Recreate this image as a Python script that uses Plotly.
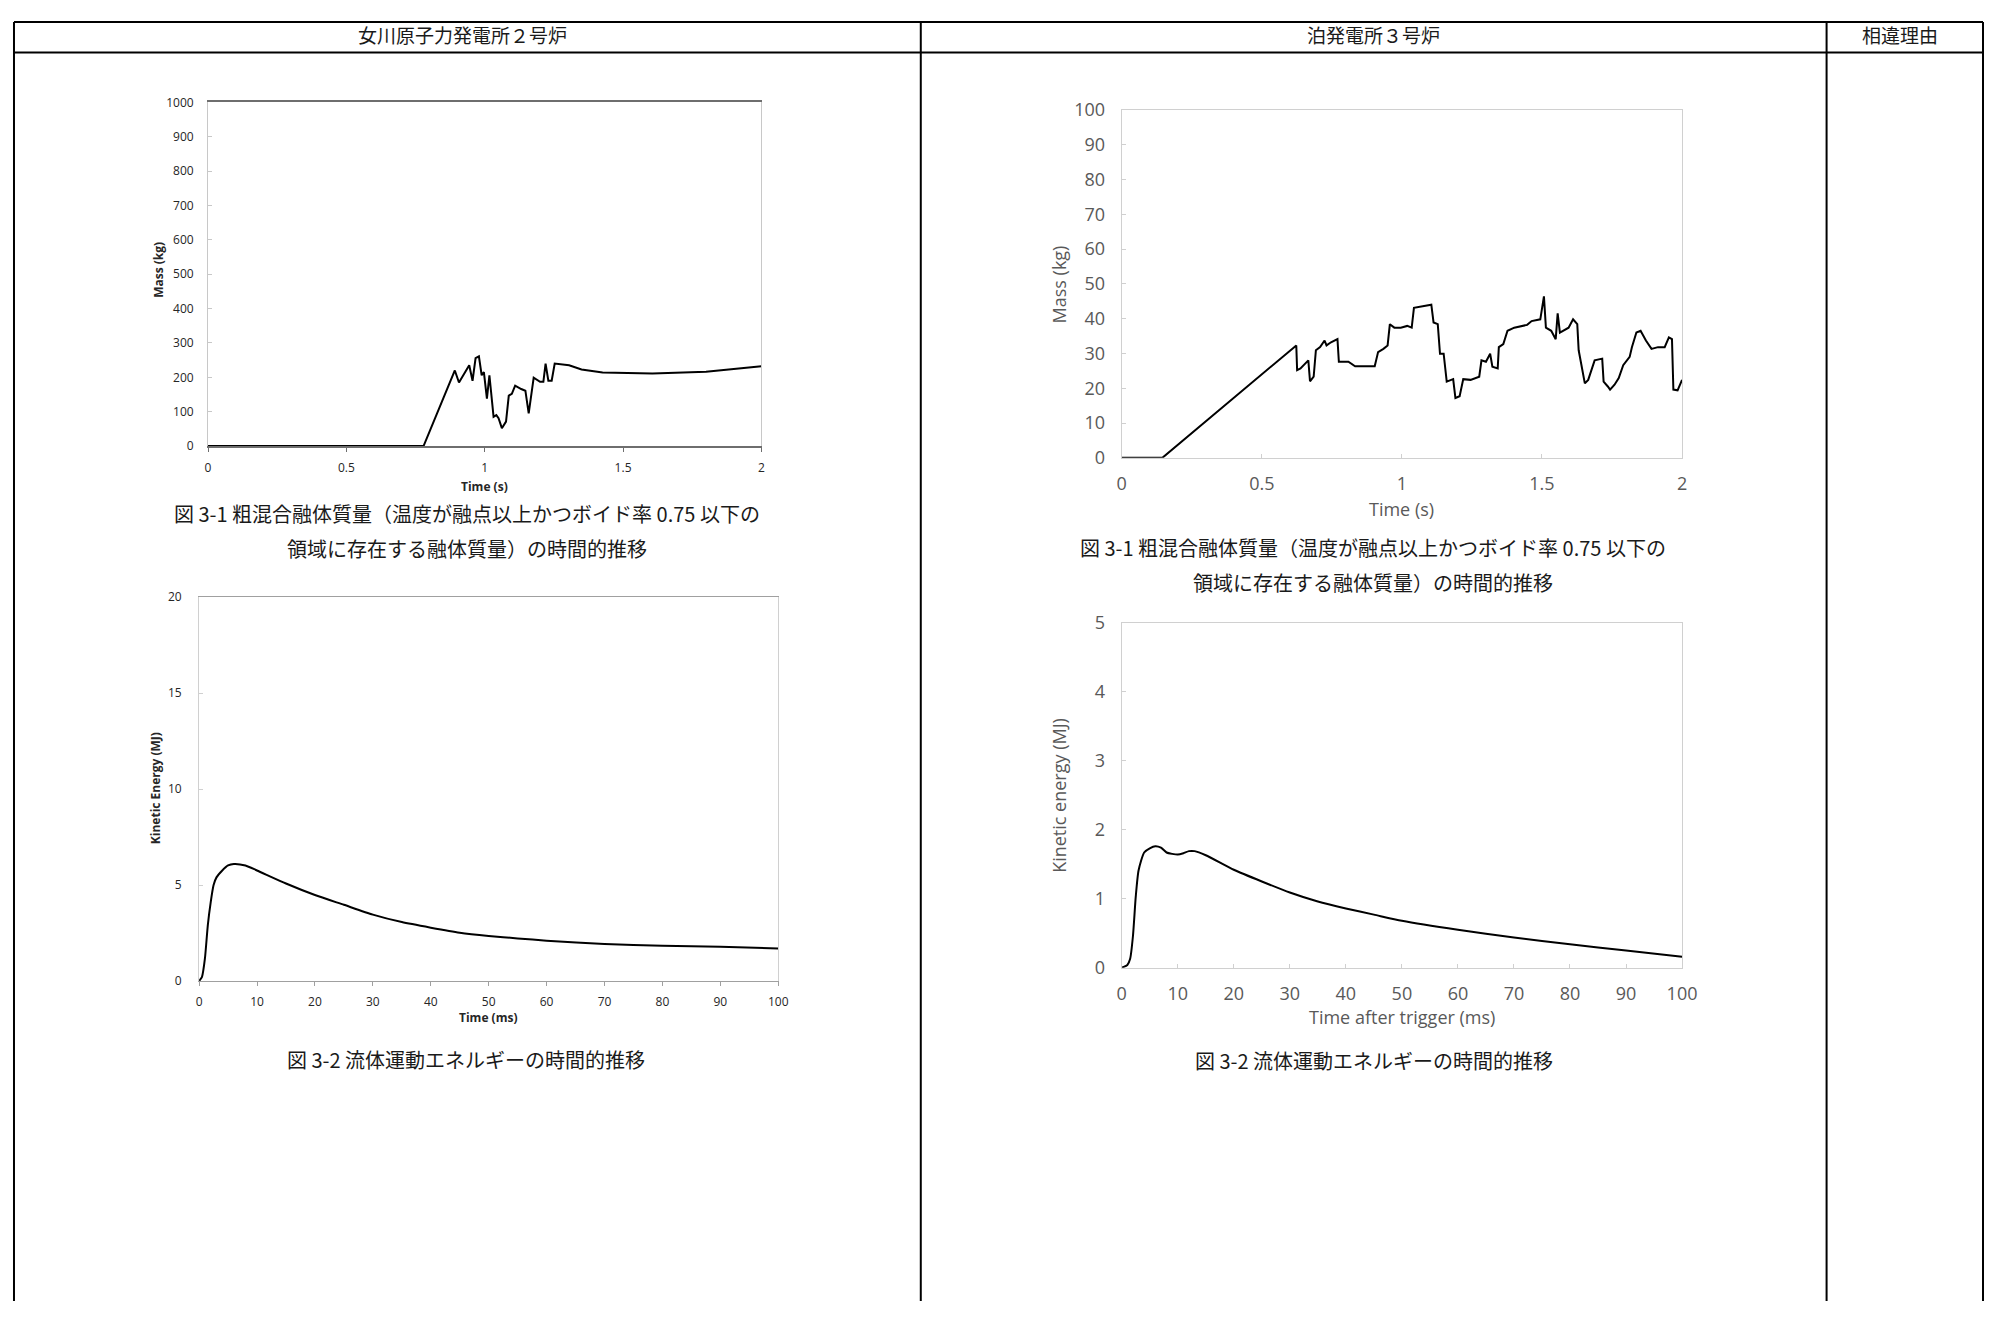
import plotly.graph_objects as go

# the page body keeps its default 8px margin, so the figure is sized to fit inside it
PAGE_W, PAGE_H = 2006, 1320
OFF = 8
W, H = PAGE_W - 2 * OFF, PAGE_H - 2 * OFF

# 女川原子力発電所2号炉 - 粗混合融体質量
onagawa_mass_t = [0, 0.779, 0.892, 0.907, 0.944, 0.956, 0.967, 0.979, 0.989, 0.997,
                  1.008, 1.017, 1.032, 1.042, 1.05, 1.062, 1.077, 1.087, 1.098, 1.11,
                  1.132, 1.147, 1.159, 1.177, 1.2, 1.212, 1.22, 1.23, 1.242, 1.253,
                  1.305, 1.35, 1.426, 1.606, 1.8, 2.0]
onagawa_mass_kg = [0, 0, 220, 185, 235, 190, 256, 261, 206, 215,
                   138, 206, 85, 90, 81, 52, 71, 147, 152, 176,
                   166, 161, 95, 199, 187, 187, 240, 190, 190, 240,
                   235, 223, 214, 211, 216, 232]

# 泊発電所3号炉 - 粗混合融体質量
tomari_mass_t = [0, 0.145, 0.623, 0.626, 0.638, 0.654, 0.666, 0.672, 0.685, 0.693,
                 0.708, 0.724, 0.731, 0.747, 0.77, 0.775, 0.809, 0.833, 0.872, 0.903,
                 0.915, 0.934, 0.949, 0.957, 0.973, 0.996, 1.019, 1.035, 1.043, 1.074,
                 1.105, 1.113, 1.128, 1.136, 1.149, 1.16, 1.183, 1.191, 1.206, 1.219,
                 1.245, 1.276, 1.284, 1.3, 1.315, 1.323, 1.342, 1.346, 1.362, 1.377,
                 1.401, 1.447, 1.463, 1.494, 1.507, 1.514, 1.533, 1.549, 1.556, 1.564,
                 1.595, 1.611, 1.626, 1.631, 1.642, 1.653, 1.665, 1.688, 1.715, 1.72,
                 1.735, 1.743, 1.759, 1.774, 1.79, 1.813, 1.821, 1.837, 1.852, 1.871,
                 1.891, 1.914, 1.938, 1.953, 1.964, 1.969, 1.984, 2.0]
tomari_mass_kg = [0, 0, 32.3, 25.2, 25.7, 27, 28, 22, 23.3, 30.9,
                  31.8, 33.7, 32.3, 33.2, 34.1, 27.6, 27.6, 26.3, 26.2, 26.3,
                  30.4, 31.3, 32.3, 38.4, 37.4, 37.4, 37.9, 37.4, 43.1, 43.5,
                  44, 38.9, 38.4, 29.9, 29.9, 21.9, 22.6, 17.2, 17.7, 22.6,
                  22.4, 23.3, 28, 27.6, 29.9, 26.2, 25.7, 31.8, 32.7, 36.5,
                  37.4, 38.2, 39.3, 39.8, 46.4, 37.4, 36.5, 34.1, 41.5, 36,
                  37.4, 39.8, 38.4, 30.9, 26.6, 21.4, 22.4, 28, 28.5, 21.9,
                  20.5, 19.6, 21, 22.9, 26.6, 29, 31.8, 36, 36.5, 33.7,
                  31.3, 31.8, 31.8, 34.6, 34.1, 19.6, 19.4, 22.4]

# 女川 - 流体運動エネルギー
onagawa_ke_t = [0, 0.5, 1, 1.5, 2, 2.5, 3, 4, 5, 6, 8, 10, 15, 20, 25, 30, 35, 40,
                45, 50, 55, 60, 70, 80, 90, 100]
onagawa_ke_mj = [0, 0.22, 1.16, 2.9, 4.1, 5.0, 5.4, 5.76, 6.02, 6.1, 6.02, 5.76, 5.08,
                 4.48, 3.97, 3.46, 3.07, 2.78, 2.52, 2.35, 2.22, 2.1, 1.93, 1.84, 1.79, 1.7]

# 泊 - 流体運動エネルギー
tomari_ke_t = [0, 1, 1.5, 2, 2.5, 3, 4, 5, 6, 7, 8, 9, 10, 11, 12, 13, 15, 20, 25,
               30, 35, 40, 45, 50, 60, 70, 80, 90, 100]
tomari_ke_mj = [0, 0.04, 0.13, 0.46, 1.03, 1.41, 1.67, 1.73, 1.76, 1.74, 1.67, 1.65,
                1.64, 1.66, 1.69, 1.69, 1.63, 1.42, 1.25, 1.09, 0.96, 0.86, 0.77, 0.68,
                0.55, 0.44, 0.34, 0.25, 0.16]

col_headers = ["女川原子力発電所２号炉", "泊発電所３号炉", "相違理由"]
cap_31a = "図 3-1 粗混合融体質量（温度が融点以上かつボイド率 0.75 以下の"
cap_31b = "領域に存在する融体質量）の時間的推移"
cap_32 = "図 3-2 流体運動エネルギーの時間的推移"


# page pixel -> paper fraction
def px(x):
    return (x - OFF) / W


def py(y):
    return 1 - (y - OFF) / H


fig = go.Figure()
fig.add_trace(go.Scatter(x=onagawa_mass_t, y=onagawa_mass_kg, mode="lines",
                         line=dict(color="black", width=2), xaxis="x", yaxis="y"))
fig.add_trace(go.Scatter(x=tomari_mass_t, y=tomari_mass_kg, mode="lines",
                         line=dict(color="black", width=2), xaxis="x2", yaxis="y2"))
fig.add_trace(go.Scatter(x=onagawa_ke_t, y=onagawa_ke_mj, mode="lines",
                         line=dict(color="black", width=2, shape="spline", smoothing=0.6),
                         xaxis="x3", yaxis="y3"))
fig.add_trace(go.Scatter(x=tomari_ke_t, y=tomari_ke_mj, mode="lines",
                         line=dict(color="black", width=2, shape="spline", smoothing=0.6),
                         xaxis="x4", yaxis="y4"))


def ax(size, color, lc, ticks, standoff, rng, dtick, dom, anchor, lw=1):
    return dict(range=rng, dtick=dtick, tick0=0, domain=dom, anchor=anchor,
                showgrid=False, zeroline=False, showline=True, mirror=True,
                linecolor=lc, linewidth=lw, ticks=ticks, ticklen=4, tickcolor=lc,
                tickfont=dict(family="Open Sans", size=size, color=color),
                ticklabelstandoff=standoff, fixedrange=True)


fig.update_layout(
    width=W, height=H, margin=dict(l=0, r=0, t=0, b=0),
    paper_bgcolor="white", plot_bgcolor="white", showlegend=False,
    xaxis=ax(12, "#262626", "#6e6e6e", "outside", 6, [0, 2], 0.5,
             [px(205), px(764)], "y", 1.5),
    yaxis=ax(12, "#262626", "#c8c8c8", "inside", 11, [0, 1000], 100,
             [py(441), py(91)], "x"),
    xaxis2=ax(18, "#595959", "#d0d0d0", "inside", 10, [0, 2], 0.5,
              [px(1128), px(1694)], "y2"),
    yaxis2=ax(18, "#595959", "#d0d0d0", "inside", 12, [0, 100], 10,
              [py(453), py(98.5)], "x2"),
    xaxis3=ax(12, "#262626", "#a0a0a0", "outside", 6, [0, 100], 10,
              [px(196), px(781)], "y3"),
    yaxis3=ax(12, "#262626", "#d0d0d0", "inside", 14, [0, 20], 5,
              [py(986), py(595)], "x3"),
    xaxis4=ax(18, "#595959", "#d0d0d0", "inside", 10, [0, 100], 10,
              [px(1128), px(1694)], "y4"),
    yaxis4=ax(18, "#595959", "#d0d0d0", "inside", 12, [0, 5], 1,
              [py(972.5), py(621)], "x4"),
)

ann = []


def text(x, y, s, size, color="#1a1a1a", family="Noto Sans CJK JP", angle=0, bold=False):
    if bold:
        s = "<b>" + s + "</b>"
    ann.append(dict(x=px(x), y=py(y), xref="paper", yref="paper", text=s,
                    showarrow=False, textangle=angle, xanchor="center", yanchor="middle",
                    font=dict(family=family, size=size, color=color)))


# column headers
text(462, 22, col_headers[0], 19)
text(1382, 22, col_headers[1], 19)
text(1914, 22, col_headers[2], 19)

# axis titles
text(155, 262, "Mass (kg)", 12, "#262626", "Open Sans", -90, True)
text(484, 482, "Time (s)", 12, "#262626", "Open Sans", 0, True)
text(1065, 276, "Mass (kg)", 18, "#595959", "Open Sans", -90)
text(1411, 505, "Time (s)", 18, "#595959", "Open Sans")
text(152, 790, "Kinetic Energy (MJ)", 12, "#262626", "Open Sans", -90, True)
text(488, 1023, "Time (ms)", 12, "#262626", "Open Sans", 0, True)
text(1065, 797, "Kinetic energy (MJ)", 18, "#595959", "Open Sans", -90)
text(1411, 1023, "Time after trigger (ms)", 18, "#595959", "Open Sans")

# captions
text(467, 510, cap_31a, 20)
text(467, 545, cap_31b, 20)
text(1382, 544, cap_31a, 20)
text(1382, 580, cap_31b, 20)
text(466, 1066, cap_32, 20)
text(1383, 1067, cap_32, 20)

fig.update_layout(annotations=ann)

# table frame
top, bottom = OFF + 1, PAGE_H - OFF
shapes = []
for x0, y0, x1, y1 in [(9, top, 1998, top), (9, 40, 1998, 40),
                       (9, top, 9, bottom), (925, top, 925, bottom),
                       (1840, top, 1840, bottom), (1998, top, 1998, bottom)]:
    shapes.append(dict(type="line", xref="paper", yref="paper",
                       x0=px(x0), y0=py(y0), x1=px(x1), y1=py(y1),
                       line=dict(color="black", width=2)))
fig.update_layout(shapes=shapes)

fig.write_html("out.html")
